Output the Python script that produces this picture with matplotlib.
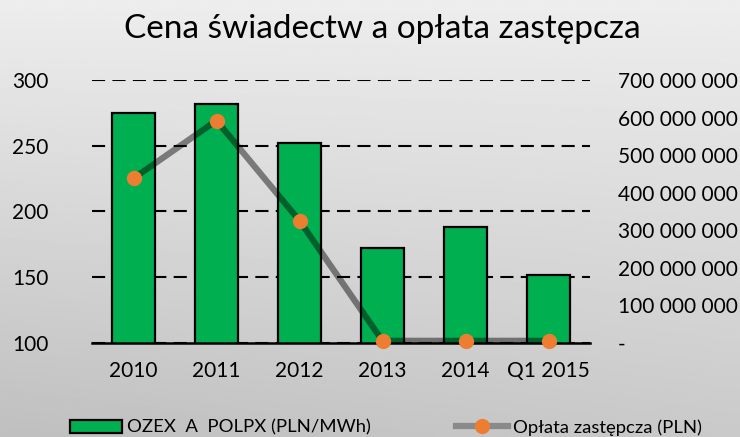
import numpy as np
import matplotlib
matplotlib.use("Agg")
import matplotlib.pyplot as plt
from matplotlib.ticker import FuncFormatter, FixedLocator
from matplotlib.patches import Patch
from matplotlib.lines import Line2D

categories = ["2010", "2011", "2012", "2013", "2014", "Q1 2015"]
ozex_price = [274.7, 281.7, 251.8, 171.8, 188.3, 151.5]
oplata = [438e6, 592e6, 325e6, 5e6, 5e6, 5e6]
left_ticks = [100, 150, 200, 250, 300]
right_ticks = [0, 100e6, 200e6, 300e6, 400e6, 500e6, 600e6, 700e6]

title = "Cena świadectw a opłata zastępcza"
label_bar = "OZEX  A  POLPX (PLN/MWh)"
label_line = "Opłata zastępcza (PLN)"

FONT = "Lato"
plt.rcParams['font.family'] = [FONT, 'DejaVu Sans']

fig = plt.figure(figsize=(7.4, 4.37), dpi=100)

# background gradient
bg = fig.add_axes([0, 0, 1, 1], zorder=-10)
yy = np.linspace(0, 1, 200)[:, None]
xx = np.linspace(0, 1, 300)[None, :]
val = 0.93 - 0.14 * yy - 0.04 * (1 - xx) * yy
bg.imshow(val, cmap="gray", vmin=0, vmax=1, aspect="auto", extent=[0, 1, 0, 1], origin="upper")
bg.axis("off")

ax = fig.add_axes([92/740, (437-342.7)/437, (590-92)/740, (342.7-80)/437])
ax.patch.set_alpha(0)
x = np.arange(len(categories))
ax.bar(x, ozex_price, width=0.52, color="#00B050", edgecolor="black", linewidth=1.6, zorder=3)
ax.set_xlim(-0.5, len(categories) - 0.5)
ax.set_ylim(100, 300)
ax.yaxis.set_major_locator(FixedLocator(left_ticks))
ax.grid(axis="y", color="black", linestyle=(0, (6.3, 3.5)), linewidth=1.5, zorder=0)
ax.set_axisbelow(True)
for s in ["top", "left", "right"]:
    ax.spines[s].set_visible(False)
ax.spines["bottom"].set_linewidth(1.8)
ax.spines["bottom"].set_zorder(4)
ax.set_xticks(x)
ax.set_xticklabels(categories, fontsize=15)
ax.tick_params(axis="x", length=0, pad=13)
ax.tick_params(axis="y", length=0, pad=31.5, labelsize=15)

ax2 = ax.twinx()
ax2.set_ylim(0, 700e6)
ax2.plot(x, oplata, color="black", alpha=0.45, linewidth=4.5, zorder=5, clip_on=False,
         solid_capstyle="butt")
ax2.plot(x, oplata, linestyle="none", marker="o", markersize=11, color="#ED7D31",
         markeredgewidth=0, zorder=6, clip_on=False)
ax2.yaxis.set_major_locator(FixedLocator(right_ticks))
ax2.yaxis.set_major_formatter(FuncFormatter(
    lambda v, p: "-" if v == 0 else f"{int(v):,}".replace(",", " ")))
ax2.tick_params(axis="y", length=0, pad=20, labelsize=15)
for s in ["top", "left", "right", "bottom"]:
    ax2.spines[s].set_visible(False)

fig.text(382/740, 1 - 38.3/437, title, ha="center", va="baseline", fontsize=24)

handles = [
    Patch(facecolor="#00B050", edgecolor="black", linewidth=1.6),
    Line2D([0], [0], color="#8a8a8a", linewidth=4.5, marker="o", markersize=11,
           markerfacecolor="#ED7D31", markeredgewidth=0),
]
fig.legend(handles, [label_bar, label_line], loc="center", bbox_to_anchor=(386/740, 1 - 427.5/437),
           ncol=2, frameon=False, fontsize=13.3, handlelength=2.8, handleheight=0.7,
           handletextpad=0.3, columnspacing=4.6, borderpad=0, borderaxespad=0)

fig.savefig("out.png", dpi=100)
